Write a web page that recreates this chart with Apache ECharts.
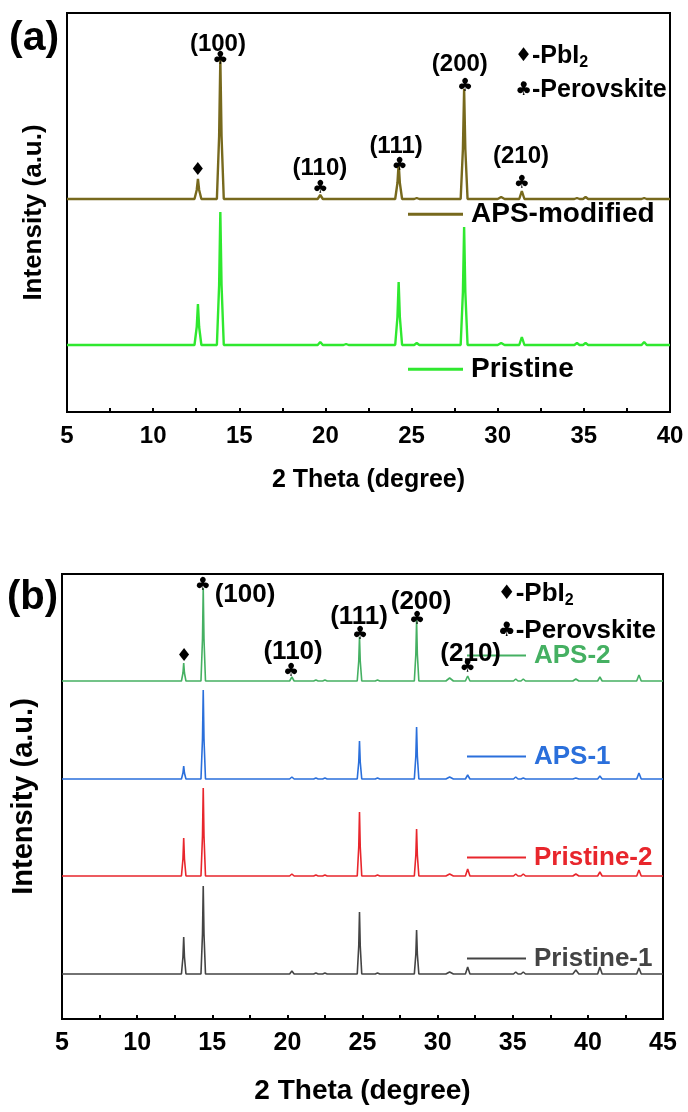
<!DOCTYPE html>
<html>
<head>
<meta charset="utf-8">
<script src="https://cdn.jsdelivr.net/npm/echarts@6/dist/echarts.min.js"></script>
<style>
html,body{margin:0;padding:0;background:#fff;}
#c{width:688px;height:1112px;}
</style>
</head>
<body>
<div id="c"></div>
<script>
// ---------- Panel (a) data ----------
const thetaA = [5,
  12.4,12.53,12.6,12.67,12.8,
  13.7,13.83,13.9,13.97,14.1,
  19.55,19.7,19.85,
  21.05,21.2,21.35,
  24.05,24.18,24.25,24.32,24.45,
  25.15,25.3,25.45,
  27.85,27.98,28.05,28.12,28.25,
  30.0,30.2,30.4,
  31.25,31.4,31.55,
  34.45,34.6,34.75,
  34.95,35.1,35.25,
  38.35,38.5,38.65,
  40];
const apsModified = [213,
  213,222,233,222,213,
  213,276,353,276,213,
  213,217,213,
  213,213,213,
  213,229,249,229,213,
  213,214,213,
  213,263,323,263,213,
  213,215,213,
  213,221,213,
  213,214,213,
  213,215,213,
  213,214,213,
  213];
const pristine = [67,
  67,85,108,85,67,
  67,127,200,127,67,
  67,70,67,
  67,68,67,
  67,95,130,95,67,
  67,69,67,
  67,120,185,120,67,
  67,69,67,
  67,75,67,
  67,69,67,
  67,69,67,
  67,70,67,
  67];
const ticksA = [5,10,15,20,25,30,35,40];

// ---------- Panel (b) data ----------
const thetaB = [5,
  12.95,13.05,13.1,13.15,13.25,
  14.25,14.35,14.4,14.45,14.55,
  20.15,20.3,20.45,
  21.75,21.9,22.05,
  22.35,22.5,22.65,
  24.65,24.75,24.8,24.85,24.95,
  25.85,26.0,26.15,
  28.45,28.55,28.6,28.65,28.75,
  30.55,30.8,31.05,
  31.85,32.0,32.15,
  35.05,35.2,35.35,
  35.55,35.7,35.85,
  39.0,39.2,39.4,
  40.65,40.8,40.95,
  43.25,43.4,43.55,
  45];
const aps2 = [338,
  338,346,356,346,338,
  338,380,431,380,338,
  338,342,338,
  338,339,338,
  338,339,338,
  338,358,382,358,338,
  338,339,338,
  338,365,399,365,338,
  338,341,338,
  338,343,338,
  338,340,338,
  338,340,338,
  338,340,338,
  338,342,338,
  338,344,338,
  338];
const aps1 = [240,
  240,246,253,246,240,
  240,280,329,280,240,
  240,242,240,
  240,241,240,
  240,241,240,
  240,257,278,257,240,
  240,241,240,
  240,263,292,263,240,
  240,242,240,
  240,244,240,
  240,242,240,
  240,241,240,
  240,241,240,
  240,243,240,
  240,246,240,
  240];
const pristine2 = [143,
  143,160,181,160,143,
  143,183,231,183,143,
  143,145,143,
  143,144,143,
  143,144,143,
  143,172,207,172,143,
  143,144,143,
  143,164,190,164,143,
  143,145,143,
  143,150,143,
  143,145,143,
  143,145,143,
  143,145,143,
  143,147,143,
  143,149,143,
  143];
const pristine1 = [45,
  45,62,82,62,45,
  45,85,133,85,45,
  45,48,45,
  45,46,45,
  45,46,45,
  45,73,107,73,45,
  45,46,45,
  45,65,89,65,45,
  45,47,45,
  45,52,45,
  45,47,45,
  45,47,45,
  45,49,45,
  45,52,45,
  45,51,45,
  45];
const ticksB = [5,10,15,20,25,30,35,40,45];

const hkl = ['(100)','(110)','(111)','(200)','(210)'];
const seriesNamesA = ['APS-modified','Pristine'];
const seriesNamesB = ['APS-2','APS-1','Pristine-2','Pristine-1'];

// ---------- build ----------
const FONT = '"Liberation Sans", Arial, "DejaVu Sans", sans-serif';
const SYMFONT = '"DejaVu Sans", sans-serif';
const pairs = (xs, ys) => xs.map((x, i) => [x, ys[i]]);

function xAxisCfg(gi, min, max, fs, nameFs, nameGap) {
  return {
    gridIndex: gi, type: 'value', min: min, max: max, interval: 5,
    name: '2 Theta (degree)', nameLocation: 'middle', nameGap: nameGap,
    nameTextStyle: {fontSize: nameFs, fontWeight: 'bold', color: '#000', fontFamily: FONT},
    axisLine: {show: true, onZero: false, lineStyle: {color: '#000', width: 2}},
    axisTick: {show: true, inside: true, length: 4, lineStyle: {color: '#000', width: 2}},
    minorTick: {show: true, splitNumber: 2, length: 4, lineStyle: {color: '#000', width: 2}},
    axisLabel: {fontSize: fs, fontWeight: 'bold', color: '#000', margin: 12, fontFamily: FONT},
    splitLine: {show: false}
  };
}
function yAxisCfg(gi, max, nameFs, nameGap) {
  return {
    gridIndex: gi, type: 'value', min: 0, max: max,
    name: 'Intensity (a.u.)', nameLocation: 'middle', nameGap: nameGap,
    nameTextStyle: {fontSize: nameFs, fontWeight: 'bold', color: '#000', fontFamily: FONT},
    axisLine: {show: true, lineStyle: {color: '#000', width: 2}},
    axisTick: {show: false}, axisLabel: {show: false}, splitLine: {show: false}
  };
}
function lineSeries(name, xi, data, color, w) {
  return {
    name: name, type: 'line', xAxisIndex: xi, yAxisIndex: xi, data: data,
    showSymbol: false, symbol: 'none', smooth: false, animation: false,
    lineStyle: {color: color, width: w}, itemStyle: {color: color}, z: 3
  };
}
function textSeries(xi, items, fs) {
  return {
    type: 'scatter', xAxisIndex: xi, yAxisIndex: xi, symbolSize: 0, silent: true,
    animation: false, itemStyle: {color: 'rgba(0,0,0,0)'}, z: 5,
    data: items.map(it => {
      const f = it.fs || fs;
      return {
        value: it.at,
        label: {
          show: true, position: it.pos || 'inside', distance: 0, formatter: it.t,
          fontSize: f, fontWeight: 'bold', color: '#000', opacity: 1,
          textBorderWidth: 0, textBorderColor: 'transparent',
          fontFamily: it.sym ? SYMFONT : FONT,
          rich: {
            t: {fontSize: f, fontWeight: 'bold', color: '#000', fontFamily: FONT, lineHeight: 30, textBorderWidth: 0},
            s: {fontSize: Math.round(f * 0.62), fontWeight: 'bold', color: '#000', fontFamily: FONT, lineHeight: 16, verticalAlign: 'bottom', textBorderWidth: 0},
            m: {fontSize: Math.round(f * 0.75), color: '#000', fontFamily: SYMFONT, lineHeight: 30, textBorderWidth: 0}
          }
        }
      };
    })
  };
}
function legendCfg(name, left, cy, iw, ih, fs, color) {
  return {
    data: [name], left: left, top: cy - fs * 0.6, padding: 0, itemGap: 0,
    itemWidth: iw, itemHeight: ih, icon: 'rect', selectedMode: false,
    textStyle: {fontSize: fs, fontWeight: 'bold', color: color, fontFamily: FONT, padding: [0, 0, 0, 3]}
  };
}

const colA = ['#77691d', '#2fe82f'];
const colB = ['#45b062', '#2a6fdb', '#e8262c', '#444444'];
const clubFs = 18;

const option = {
  backgroundColor: '#fff',
  animation: false,
  grid: [
    {left: 67, right: 18, top: 13, height: 399, show: true, borderColor: '#000', borderWidth: 2, backgroundColor: 'transparent'},
    {left: 62, right: 25, top: 574, height: 445, show: true, borderColor: '#000', borderWidth: 2, backgroundColor: 'transparent'}
  ],
  xAxis: [xAxisCfg(0, ticksA[0], ticksA[ticksA.length - 1], 24, 25, 56), xAxisCfg(1, ticksB[0], ticksB[ticksB.length - 1], 25, 28, 58)],
  yAxis: [yAxisCfg(0, 399, 26, 20), yAxisCfg(1, 445, 29, 24)],
  legend: [
    legendCfg(seriesNamesA[0], 408, 217, 55, 3, 28, '#000'),
    legendCfg(seriesNamesA[1], 408, 372, 55, 3, 28, '#000'),
    legendCfg(seriesNamesB[0], 467, 658, 59, 2, 26, colB[0]),
    legendCfg(seriesNamesB[1], 467, 759, 59, 2, 26, colB[1]),
    legendCfg(seriesNamesB[2], 467, 860, 59, 2, 26, colB[2]),
    legendCfg(seriesNamesB[3], 467, 961, 59, 2, 26, colB[3])
  ],
  series: [
    lineSeries(seriesNamesA[0], 0, pairs(thetaA, apsModified), colA[0], 2.4),
    lineSeries(seriesNamesA[1], 0, pairs(thetaA, pristine), colA[1], 2.4),
    lineSeries(seriesNamesB[0], 1, pairs(thetaB, aps2), colB[0], 1.6),
    lineSeries(seriesNamesB[1], 1, pairs(thetaB, aps1), colB[1], 1.6),
    lineSeries(seriesNamesB[2], 1, pairs(thetaB, pristine2), colB[2], 1.6),
    lineSeries(seriesNamesB[3], 1, pairs(thetaB, pristine1), colB[3], 1.6),
    textSeries(0, [
      {t: '♦', at: [12.6, 242], fs: clubFs, sym: true},
      {t: hkl[0], at: [13.76, 368]}, {t: '♣', at: [13.9, 353], fs: clubFs, sym: true},
      {t: hkl[1], at: [19.68, 244]}, {t: '♣', at: [19.7, 224], fs: clubFs, sym: true},
      {t: hkl[2], at: [24.1, 266]}, {t: '♣', at: [24.3, 247], fs: clubFs, sym: true},
      {t: hkl[3], at: [27.8, 348]}, {t: '♣', at: [28.1, 326], fs: clubFs, sym: true},
      {t: hkl[4], at: [31.35, 256]}, {t: '♣', at: [31.4, 229], fs: clubFs, sym: true},
      {t: '{m|♦}{t|-PbI}{s|2}', at: [31.0, 356], pos: 'right', fs: 25},
      {t: '{m|♣}{t|-Perovskite}', at: [31.0, 322], pos: 'right', fs: 25}
    ], 24),
    textSeries(1, [
      {t: '♦', at: [13.12, 363], fs: clubFs, sym: true},
      {t: '♣', at: [14.38, 434], fs: clubFs, sym: true}, {t: hkl[0], at: [17.18, 424]},
      {t: hkl[1], at: [20.38, 367]}, {t: '♣', at: [20.24, 348], fs: clubFs, sym: true},
      {t: hkl[2], at: [24.77, 402]}, {t: '♣', at: [24.83, 385], fs: clubFs, sym: true},
      {t: hkl[3], at: [28.9, 417]}, {t: '♣', at: [28.63, 400], fs: clubFs, sym: true},
      {t: hkl[4], at: [32.2, 365]}, {t: '♣', at: [32.0, 352], fs: clubFs, sym: true},
      {t: '{m|♦}{t|-PbI}{s|2}', at: [34.0, 425], pos: 'right', fs: 26},
      {t: '{m|♣}{t|-Perovskite}', at: [34.0, 388], pos: 'right', fs: 26}
    ], 26)
  ],
  graphic: [
    {type: 'text', left: 9, top: 18, style: {text: '(a)', font: 'bold 41px ' + FONT, fill: '#000'}},
    {type: 'text', left: 7, top: 578, style: {text: '(b)', font: 'bold 40px ' + FONT, fill: '#000'}}
  ]
};

const chart = echarts.init(document.getElementById('c'), null, {renderer: 'canvas'});
chart.setOption(option);
</script>
</body>
</html>
